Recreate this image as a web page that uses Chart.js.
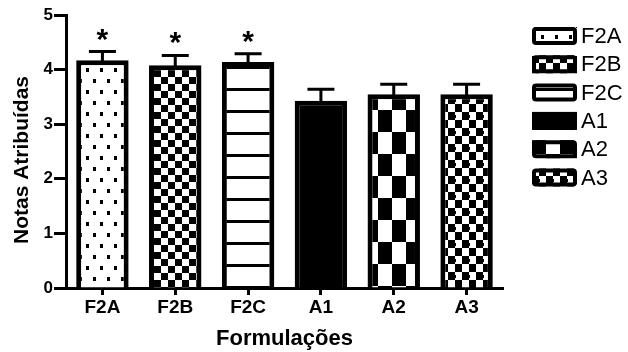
<!DOCTYPE html>
<html>
<head>
<meta charset="utf-8">
<script src="https://cdn.jsdelivr.net/npm/chart.js@4.4.1/dist/chart.umd.min.js"></script>
<style>
  html, body { margin: 0; padding: 0; background: #fff; }
  #wrap { width: 628px; height: 352px; }
</style>
</head>
<body>
<div id="wrap"><canvas id="c" width="628" height="352"></canvas></div>
<script>
// Formulation scores (mean ± SEM)
const categories = ['F2A', 'F2B', 'F2C', 'A1', 'A2', 'A3'];
const means = [4.17, 4.08, 4.14, 3.43, 3.55, 3.55];
const sem = [0.16, 0.18, 0.15, 0.21, 0.18, 0.18];
const markers = ['*', '*', '*', '', '', ''];
const yTicks = [0, 1, 2, 3, 4, 5];
const yTitle = 'Notas Atribuídas';
const xTitle = 'Formulações';

const FONT = "'Liberation Sans', Arial, sans-serif";
const canvas = document.getElementById('c');
const ctx0 = canvas.getContext('2d');

// Black-and-white hatch tiles for the bars
function tile(w, h, draw) {
  const c = document.createElement('canvas');
  c.width = w; c.height = h;
  const g = c.getContext('2d');
  g.fillStyle = '#fff'; g.fillRect(0, 0, w, h);
  g.fillStyle = '#000';
  draw(g);
  return ctx0.createPattern(c, 'repeat');
}
const fills = {
  dots: tile(14, 22, g => { g.fillRect(2, 2, 3, 4); g.fillRect(9, 13, 3, 4); }),
  checkSmall: tile(14, 14, g => { g.fillRect(0, 0, 7, 7); g.fillRect(7, 7, 7, 7); }),
  stripes: tile(8, 22, g => { g.fillRect(0, 0, 8, 3); }),
  solid: '#000',
  checkLarge: tile(28, 44, g => { g.fillRect(0, 0, 14, 22); g.fillRect(14, 22, 14, 22); }),
  checkSkew: tile(14, 16, g => { g.fillRect(0, 0, 7, 8); g.fillRect(7, 8, 7, 8); g.fillRect(6, 3, 2, 3); })
};
const fillKinds = ['dots', 'checkSmall', 'stripes', 'solid', 'checkLarge', 'checkSkew'];
const barFills = fillKinds.map(k => fills[k]);

// Upper SEM whiskers and significance marks
const errorBars = {
  id: 'errorBars',
  afterDatasetsDraw(chart) {
    const { ctx, scales: { y } } = chart;
    const meta = chart.getDatasetMeta(0);
    ctx.save();
    ctx.strokeStyle = '#000';
    ctx.lineWidth = 3;
    meta.data.forEach((bar, i) => {
      const x = bar.x;
      const yMean = y.getPixelForValue(means[i]);
      const yTop = y.getPixelForValue(means[i] + sem[i]);
      ctx.beginPath();
      ctx.moveTo(x, yMean + 3);
      ctx.lineTo(x, yTop);
      ctx.moveTo(x - 13.5, yTop);
      ctx.lineTo(x + 13.5, yTop);
      ctx.stroke();
      if (markers[i]) {
        ctx.fillStyle = '#000';
        ctx.font = 'bold 30px ' + FONT;
        ctx.textAlign = 'center';
        ctx.textBaseline = 'alphabetic';
        ctx.fillText(markers[i], x, yTop - 3);
      }
    });
    ctx.restore();
  }
};

// Rotated y-axis title and legend column with patterned swatches
const annotations = {
  id: 'annotations',
  afterDraw(chart) {
    const { ctx } = chart;
    ctx.save();
    ctx.translate(22, 160);
    ctx.rotate(-Math.PI / 2);
    ctx.fillStyle = '#000';
    ctx.font = 'bold 21px ' + FONT;
    ctx.textAlign = 'center';
    ctx.textBaseline = 'middle';
    ctx.fillText(yTitle, 0, 0);
    ctx.restore();

    ctx.save();
    categories.forEach((name, i) => {
      const bx = 532, by = 27 + i * 28.3, bw = 45, bh = 18;
      ctx.fillStyle = barFills[i];
      ctx.fillRect(bx, by, bw, bh);
      ctx.strokeStyle = '#000';
      ctx.lineWidth = 4;
      ctx.beginPath();
      if (ctx.roundRect) ctx.roundRect(bx + 2, by + 2, bw - 4, bh - 4, 2);
      else ctx.rect(bx + 2, by + 2, bw - 4, bh - 4);
      ctx.stroke();
      ctx.fillStyle = '#000';
      ctx.font = '22px ' + FONT;
      ctx.textAlign = 'left';
      ctx.textBaseline = 'middle';
      ctx.fillText(name, 581, by + bh / 2 + 1);
    });
    ctx.restore();
  }
};

new Chart(ctx0, {
  type: 'bar',
  data: {
    labels: categories,
    datasets: [{
      data: means,
      backgroundColor: barFills,
      borderColor: '#000',
      borderWidth: 5,
      borderSkipped: 'start',
      barPercentage: 0.72,
      categoryPercentage: 1
    }]
  },
  options: {
    responsive: false,
    animation: false,
    devicePixelRatio: 1,
    layout: { padding: { left: 0, right: 125, top: 15, bottom: 0 } },
    plugins: { legend: { display: false }, tooltip: { enabled: false } },
    scales: {
      x: {
        offset: true,
        grid: { display: true, offset: false, drawOnChartArea: false, drawTicks: true, tickLength: 7, tickWidth: 3, tickColor: '#000' },
        border: { display: true, color: '#000', width: 3 },
        ticks: { color: '#000', font: { family: FONT, weight: 'bold', size: 19 }, padding: 1 },
        title: { display: true, text: xTitle, color: '#000', font: { family: FONT, weight: 'bold', size: 22 }, padding: { top: 4, bottom: 0 } },
        afterFit: s => { s.height = 64; }
      },
      y: {
        min: 0, max: 5,
        afterBuildTicks: s => { s.ticks = yTicks.map(v => ({ value: v })); },
        grid: { display: true, drawOnChartArea: false, drawTicks: true, tickLength: 12, tickWidth: 3, tickColor: '#000' },
        border: { display: true, color: '#000', width: 3 },
        ticks: { color: '#000', font: { family: FONT, weight: 'bold', size: 17 }, padding: 1 },
        afterFit: s => { s.width = 66; }
      }
    }
  },
  plugins: [errorBars, annotations]
});
</script>
</body>
</html>
